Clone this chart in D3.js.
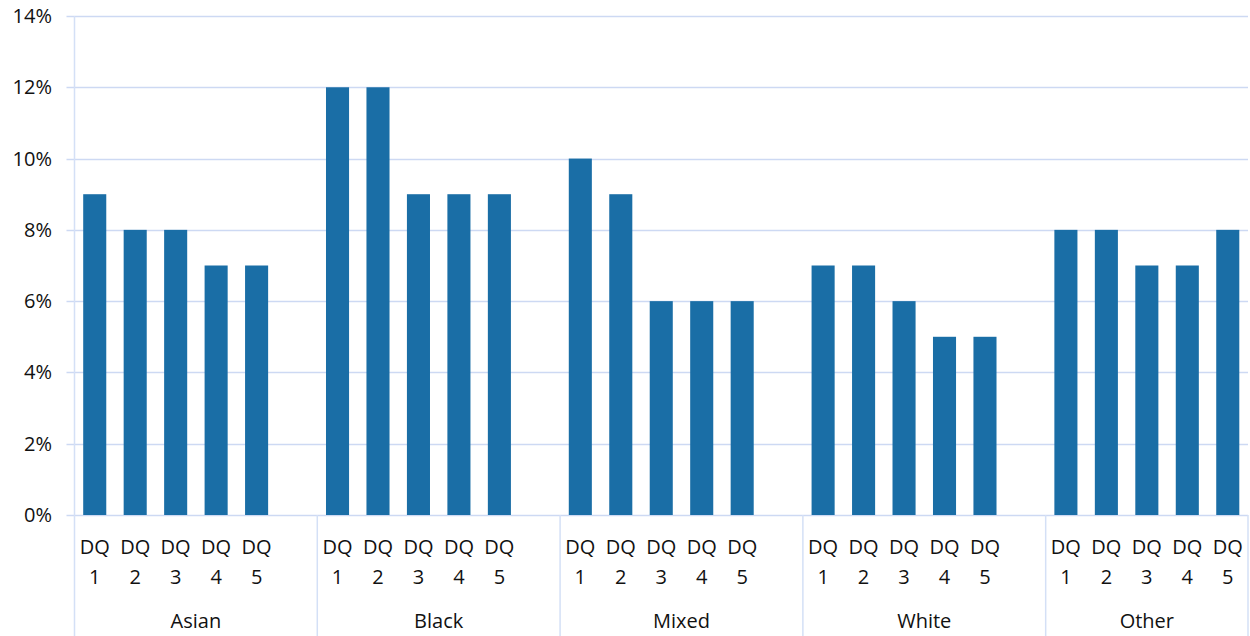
<!DOCTYPE html>
<html>
<head>
<meta charset="utf-8">
<script src="https://cdn.jsdelivr.net/npm/d3@7"></script>
<style>
  html, body { margin: 0; padding: 0; background: #fff; }
  svg { display: block; font-family: "Open Sans", "Liberation Sans", sans-serif; }
</style>
</head>
<body>
<svg id="chart" width="1250" height="636"></svg>
<script>
// Ethnic groups and deprivation quintiles
const groups = ["Asian", "Black", "Mixed", "White", "Other"];
const quintiles = ["DQ 1", "DQ 2", "DQ 3", "DQ 4", "DQ 5"];
// Percentage per quintile, one array per group
const asian = [9, 8, 8, 7, 7];
const black = [12, 12, 9, 9, 9];
const mixed = [10, 9, 6, 6, 6];
const white = [7, 7, 6, 5, 5];
const other = [8, 8, 7, 7, 8];
const yTicks = [0, 2, 4, 6, 8, 10, 12, 14];

const seriesByGroup = [asian, black, mixed, white, other];

// Flatten into slots; an empty slot separates consecutive groups
const slots = [];
groups.forEach((g, gi) => {
  quintiles.forEach((q, qi) => {
    slots.push({ key: g + "|" + q, group: g, label: q, value: seriesByGroup[gi][qi] });
  });
  if (gi < groups.length - 1) slots.push({ key: g + "|gap", group: g, label: null, value: null });
});

const svg = d3.select("#chart");
const plotLeft = 74.5, plotRight = 1248, plotTop = 16, plotBottom = 515, svgBottom = 636;
const fontSize = 20;

const x = d3.scaleBand()
  .domain(slots.map(d => d.key))
  .range([plotLeft, plotRight])
  .paddingInner(0.43)
  .paddingOuter(0.215);

const y = d3.scaleLinear().domain([0, 14]).range([plotBottom, plotTop]);

const gridColor = "#cdd9f3";
const axisColor = "#d4e0f6";
const barColor = "#1a6ea6";

// Horizontal gridlines with short ticks to the left
svg.append("g")
  .selectAll("line")
  .data(yTicks)
  .join("line")
  .attr("x1", plotLeft - 8).attr("x2", plotRight)
  .attr("y1", d => Math.round(y(d)) + 0.5).attr("y2", d => Math.round(y(d)) + 0.5)
  .attr("stroke", gridColor).attr("stroke-width", 1.5);

// Y tick labels
svg.append("g")
  .selectAll("text")
  .data(yTicks)
  .join("text")
  .attr("x", 52).attr("y", d => y(d))
  .attr("dy", "0.35em")
  .attr("text-anchor", "end")
  .attr("font-size", fontSize)
  .attr("fill", "#111")
  .text(d => d + "%");

// Vertical axis line
svg.append("line")
  .attr("x1", plotLeft).attr("x2", plotLeft)
  .attr("y1", plotTop).attr("y2", svgBottom)
  .attr("stroke", axisColor).attr("stroke-width", 1.5);

// Bars
svg.append("g")
  .selectAll("rect")
  .data(slots.filter(d => d.value !== null))
  .join("rect")
  .attr("x", d => x(d.key))
  .attr("width", x.bandwidth())
  .attr("y", d => y(d.value))
  .attr("height", d => y(0) - y(d.value))
  .attr("fill", barColor);

// Group boundaries below the baseline
const step = x.step();
const groupBounds = groups.map(g => {
  const keys = slots.filter(d => d.group === g).map(d => d.key);
  const start = x(keys[0]) - x.paddingOuter() * step;
  const end = x(keys[keys.length - 1]) - x.paddingOuter() * step + step;
  return { group: g, start, end };
});

svg.append("g")
  .selectAll("line")
  .data(groupBounds.slice(1).map(b => b.start).concat([plotRight]))
  .join("line")
  .attr("x1", d => d).attr("x2", d => d)
  .attr("y1", plotBottom).attr("y2", svgBottom)
  .attr("stroke", axisColor).attr("stroke-width", 1.5);

// Quintile labels, two lines each
const catLabels = svg.append("g")
  .selectAll("text")
  .data(slots.filter(d => d.label !== null))
  .join("text")
  .attr("text-anchor", "middle")
  .attr("font-size", fontSize)
  .attr("fill", "#111");
catLabels.append("tspan")
  .attr("x", d => x(d.key) + x.bandwidth() / 2)
  .attr("y", 554)
  .text(d => d.label.split(" ")[0]);
catLabels.append("tspan")
  .attr("x", d => x(d.key) + x.bandwidth() / 2)
  .attr("y", 584)
  .text(d => d.label.split(" ")[1]);

// Group labels
svg.append("g")
  .selectAll("text")
  .data(groupBounds)
  .join("text")
  .attr("x", d => (d.start + d.end) / 2)
  .attr("y", 628)
  .attr("text-anchor", "middle")
  .attr("font-size", fontSize)
  .attr("fill", "#111")
  .text(d => d.group);
</script>
</body>
</html>
